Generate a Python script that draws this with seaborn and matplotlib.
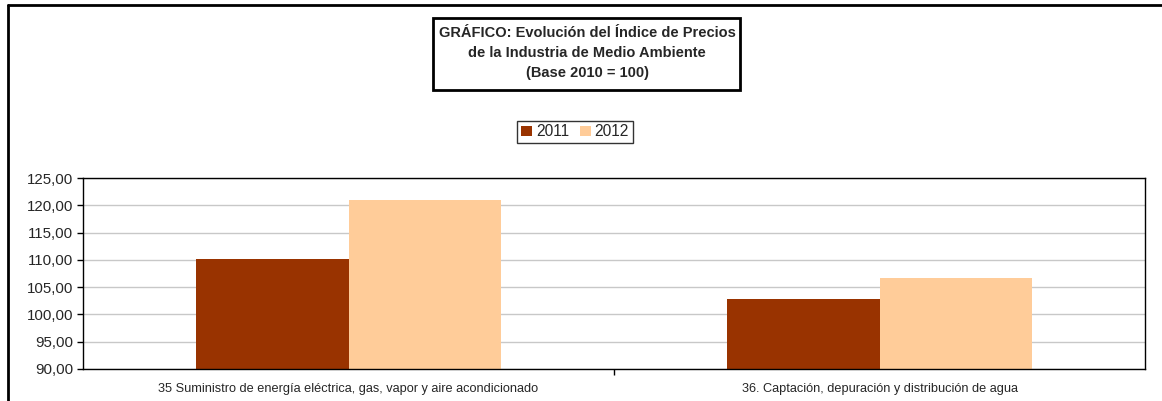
import matplotlib
matplotlib.use("Agg")
import matplotlib.pyplot as plt
import seaborn as sns
import pandas as pd
from matplotlib.patches import Rectangle
from matplotlib.lines import Line2D
from matplotlib.ticker import FuncFormatter, FixedLocator

categories = [
    "35 Suministro de energía eléctrica, gas, vapor y aire acondicionado",
    "36. Captación, depuración y distribución de agua",
]
years = ["2011", "2012"]
values_2011 = [110.15, 102.85]
values_2012 = [120.90, 106.70]
colors = ["#993300", "#FFCC99"]
title_lines = [
    "GRÁFICO: Evolución del Índice de Precios",
    "de la Industria de Medio Ambiente",
    "(Base 2010 = 100)",
]

df = pd.DataFrame({
    "categoria": categories * 2,
    "anio": [years[0]] * len(categories) + [years[1]] * len(categories),
    "valor": values_2011 + values_2012,
})

sns.set_theme(style="white")
plt.rcParams["font.family"] = ["Liberation Sans", "DejaVu Sans"]

W, H = 1162, 401
fig = plt.figure(figsize=(W / 100, H / 100), dpi=100)
ax = fig.add_axes([83 / W, 1 - 369 / H, (1145 - 83) / W, (369 - 178) / H])

sns.barplot(data=df, x="categoria", y="valor", hue="anio", order=categories,
            hue_order=years, palette=colors, width=0.573, gap=0,
            saturation=1, ax=ax, linewidth=0, edgecolor="none")

ax.set_ylim(90, 125)
ax.set_xlim(-0.5, 1.5)
ax.set_yticks([90, 95, 100, 105, 110, 115, 120, 125])
ax.yaxis.set_major_formatter(FuncFormatter(lambda v, p: f"{v:.2f}".replace(".", ",")))
ax.yaxis.grid(True, color="#c8c8c8", lw=1)
ax.set_axisbelow(True)
ax.set_xlabel("")
ax.set_ylabel("")
for s in ax.spines.values():
    s.set_color("black")
    s.set_linewidth(1)
    s.set_visible(True)
ax.tick_params(axis="y", which="major", direction="out", length=4, width=1,
               color="black", labelsize=10.8, pad=3, left=True)
ax.tick_params(axis="x", which="major", length=0, labelsize=9.2, pad=10)
ax.xaxis.set_minor_locator(FixedLocator([0.5]))
ax.tick_params(axis="x", which="minor", direction="out", length=4, width=1,
               color="black", bottom=True)

leg = ax.legend(loc="center", bbox_to_anchor=(575 / W, 1 - 132 / H),
                bbox_transform=fig.transFigure, ncol=2, frameon=True,
                fancybox=False, edgecolor="black", fontsize=11.2,
                handlelength=0.7, handleheight=0.7, handletextpad=0.25,
                columnspacing=0.7, borderpad=0.25, borderaxespad=0)
leg.get_frame().set_linewidth(1)

# title box
fig.patches.append(Rectangle((433 / W, 1 - 90 / H), 307 / W, 72 / H,
                             transform=fig.transFigure, fill=False,
                             edgecolor="black", lw=2))
for i, line in enumerate(title_lines):
    fig.text(587 / W, 1 - (33 + 20 * i) / H, line, ha="center", va="center",
             fontsize=10.5, fontweight="bold")

# outer chart border (left and top)
fig.lines.append(Line2D([8 / W, 8 / W], [0, 1 - 4.5 / H], transform=fig.transFigure,
                        color="black", lw=2))
fig.lines.append(Line2D([8 / W, 1], [1 - 4.5 / H, 1 - 4.5 / H], transform=fig.transFigure,
                        color="black", lw=2))

fig.savefig("out.png", dpi=100)
